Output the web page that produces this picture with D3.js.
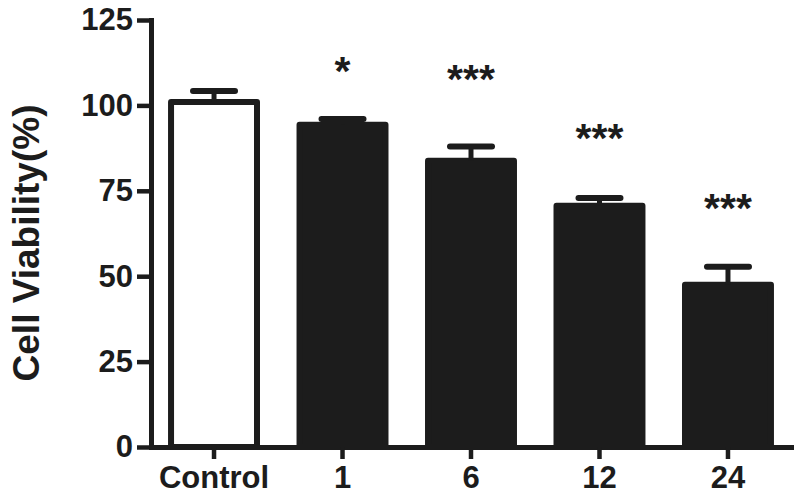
<!DOCTYPE html>
<html>
<head>
<meta charset="utf-8">
<script src="https://cdn.jsdelivr.net/npm/d3@7"></script>
<style>
	html, body { margin: 0; padding: 0; background: #fff; }
	svg text { font-family: "Liberation Sans", Arial, sans-serif; font-weight: bold; fill: #1c1c1c; }
</style>
</head>
<body>
<div id="chartDiv"></div>
<script>
;(function() {

	// groups (hours of treatment) and values
	var categories = ["Control", "1", "6", "12", "24"];
	var viability = [101, 94.3, 83.8, 70.6, 47.5];
	var sem = [3.2, 1.7, 4.2, 2.3, 5.3];
	var stars = ["", "*", "***", "***", "***"];
	var starLevel = [null, 113.0, 110.5, 93.3, 72.8];
	var yTicks = [0, 25, 50, 75, 100, 125];
	var yAxisLabelHeader = "Cell Viability(%)";

	var width = 800;
	var height = 496;
	var margin = { top: 20, right: 9, bottom: 49, left: 151 };
	var chartWidth = width - margin.left - margin.right;
	var chartHeight = height - margin.top - margin.bottom;
	var ink = "#1c1c1c";
	var barStroke = 6;

	var chart = d3.select("#chartDiv").append("svg")
		.attr("width", width)
		.attr("height", height);

	chart.plotArea = chart.append("g")
		.attr("transform", "translate(" + margin.left + "," + margin.top + ")");

	chart.xScale = d3.scaleBand()
		.domain(categories)
		.range([0, chartWidth])
		.paddingInner(0.331)
		.paddingOuter(0.156);

	chart.yScale = d3.scaleLinear()
		.domain([0, 125])
		.range([chartHeight, 0]);

	// bars
	chart.plotArea.selectAll(".bar")
		.data(categories)
		.enter().append("rect")
			.attr("class", "bar")
			.attr("x", function(d) { return chart.xScale(d); })
			.attr("y", function(d, i) { return chart.yScale(viability[i]); })
			.attr("width", chart.xScale.bandwidth())
			.attr("height", function(d, i) { return chart.yScale(0) - chart.yScale(viability[i]); })
			.style("fill", function(d, i) { return i == 0 ? "#fff" : ink; })
			.style("stroke", ink)
			.style("stroke-width", barStroke)
			.style("stroke-linejoin", "round");

	// error bars (upper half only)
	var capHalf = 21;
	var err = chart.plotArea.selectAll(".err")
		.data(categories)
		.enter().append("g")
			.attr("class", "err")
			.attr("transform", function(d) { return "translate(" + (chart.xScale(d) + chart.xScale.bandwidth() / 2) + ",0)"; });

	err.append("line")
		.attr("x1", 0).attr("x2", 0)
		.attr("y1", function(d, i) { return chart.yScale(viability[i]); })
		.attr("y2", function(d, i) { return chart.yScale(viability[i] + sem[i]); })
		.style("stroke", ink)
		.style("stroke-width", 5);

	err.append("line")
		.attr("x1", -capHalf).attr("x2", capHalf)
		.attr("y1", function(d, i) { return chart.yScale(viability[i] + sem[i]); })
		.attr("y2", function(d, i) { return chart.yScale(viability[i] + sem[i]); })
		.style("stroke", ink)
		.style("stroke-width", 6)
		.style("stroke-linecap", "round");

	// significance stars
	var starSize = 41;
	chart.plotArea.selectAll(".star")
		.data(categories)
		.enter().append("text")
			.attr("class", "star")
			.attr("text-anchor", "middle")
			.style("font-size", starSize + "px")
			.attr("x", function(d) { return chart.xScale(d) + chart.xScale.bandwidth() / 2; })
			.attr("y", function(d, i) { return starLevel[i] == null ? 0 : chart.yScale(starLevel[i]) + starSize * 0.58; })
			.text(function(d, i) { return stars[i]; });

	// x axis
	chart.xAxis = d3.axisBottom()
		.scale(chart.xScale)
		.tickSize(12)
		.tickSizeOuter(0)
		.tickPadding(7);

	chart.xAxisContainer = chart.append("g")
		.attr("class", "x axis")
		.attr("transform", "translate(" + margin.left + "," + (margin.top + chartHeight) + ")")
		.call(chart.xAxis);

	// y axis
	chart.yAxis = d3.axisLeft()
		.scale(chart.yScale)
		.tickValues(yTicks)
		.tickSize(14)
		.tickSizeOuter(0)
		.tickPadding(4);

	chart.yAxisContainer = chart.append("g")
		.attr("class", "y axis")
		.attr("transform", "translate(" + margin.left + "," + margin.top + ")")
		.call(chart.yAxis);

	chart.selectAll(".axis .domain")
		.style("stroke", ink)
		.style("stroke-width", 5)
		.style("stroke-linecap", "square");
	chart.selectAll(".axis .tick line")
		.style("stroke", ink)
		.style("stroke-width", 4.5);
	chart.selectAll(".axis text")
		.style("font-size", "31px")
		.style("fill", ink);

	// y axis header label
	chart.append("text")
		.style("font-size", "37px")
		.attr("text-anchor", "middle")
		.attr("transform", "translate(39," + 243 + ") rotate(-90)")
		.text(yAxisLabelHeader);

})();
</script>
</body>
</html>
